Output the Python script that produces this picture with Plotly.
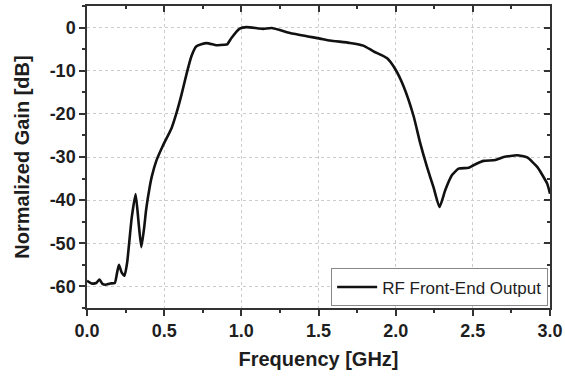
import plotly.graph_objects as go

freq_ghz = [0.0, 0.03, 0.06, 0.081, 0.1, 0.12, 0.15, 0.18, 0.195, 0.207, 0.225, 0.243,
            0.26, 0.29, 0.315, 0.335, 0.352, 0.37, 0.384, 0.406, 0.42, 0.449, 0.49,
            0.547, 0.579, 0.612, 0.644, 0.676, 0.709, 0.774, 0.839, 0.89, 0.908, 0.936,
            0.99, 1.034, 1.109, 1.142, 1.196, 1.315, 1.423, 1.51, 1.575, 1.705, 1.791,
            1.856, 1.943, 1.997, 2.051, 2.116, 2.159, 2.203, 2.245, 2.284, 2.321, 2.365,
            2.408, 2.473, 2.527, 2.57, 2.646, 2.7, 2.787, 2.852, 2.917, 2.982, 3.0]
gain_db = [-58.7, -59.3, -59.2, -58.4, -59.4, -59.6, -59.3, -59.2, -56.8, -55.0, -56.8, -57.5,
           -54.5, -44.0, -38.6, -45.5, -50.9, -46.5, -42.0, -37.0, -34.5, -30.9, -27.5,
           -23.4, -19.9, -15.6, -10.9, -6.7, -4.35, -3.6, -4.1, -4.0, -3.9, -2.4,
           -0.25, 0.1, -0.2, -0.3, -0.1, -1.24, -2.0, -2.56, -3.0, -3.57, -4.19,
           -5.5, -7.06, -9.6, -13.6, -20.5, -26.8, -32.3, -37.0, -41.6, -37.7, -34.2,
           -32.7, -32.5, -31.5, -30.9, -30.7, -30.0, -29.6, -30.1, -32.3, -36.2, -38.5]
x_tickvals = [0.0, 0.5, 1.0, 1.5, 2.0, 2.5, 3.0]
x_ticklabels = ["0.0", "0.5", "1.0", "1.5", "2.0", "2.5", "3.0"]
y_tickvals = [0, -10, -20, -30, -40, -50, -60]
y_ticklabels = ["0", "-10", "-20", "-30", "-40", "-50", "-60"]
series_name = "RF Front-End Output"
x_title = "Frequency [GHz]"
y_title = "Normalized Gain [dB]"

FONT = "Liberation Sans"
AX = "#333333"
GRID = "#cccccc"
TXT = "#1e1e1e"

fig = go.Figure()
fig.add_trace(go.Scatter(
    x=freq_ghz, y=gain_db, mode="lines", name=series_name,
    line=dict(color="#111111", width=2.6, shape="spline", smoothing=0.5),
))
# dummy trace so the mirrored top/right axes are drawn
fig.add_trace(go.Scatter(x=[0], y=[None], xaxis="x2", yaxis="y2",
                         showlegend=False, hoverinfo="skip", mode="lines"))

common = dict(showline=True, linewidth=1.5, linecolor=AX, zeroline=False,
              tickcolor=AX, tickwidth=1.5, automargin=False)
tickfont = dict(size=18, family=FONT, weight=700, color=TXT)
titlefont = dict(size=20, family=FONT, weight=700, color=TXT)
fig.update_layout(
    width=565, height=377,
    margin=dict(l=87, r=15, t=6, b=69, autoexpand=False),
    paper_bgcolor="white", plot_bgcolor="white",
    font=dict(family=FONT, color=TXT),
    xaxis=dict(range=[0, 3], tickmode="array", tickvals=x_tickvals,
               ticktext=["<b>%s</b>" % t for t in x_ticklabels],
               ticks="outside", ticklen=6,
               minor=dict(dtick=0.25, tick0=0, ticks="outside", ticklen=3, tickcolor=AX, tickwidth=1.5),
               showgrid=True, gridcolor=GRID, griddash="dot", gridwidth=1,
               tickfont=tickfont,
               title=dict(text=x_title, font=titlefont, standoff=12),
               **common),
    yaxis=dict(range=[-65, 5], tickmode="array", tickvals=y_tickvals,
               ticktext=["<b>%s</b>" % t for t in y_ticklabels],
               ticks="outside", ticklen=6,
               minor=dict(dtick=5, tick0=0, ticks="outside", ticklen=3, tickcolor=AX, tickwidth=1.5),
               showgrid=True, gridcolor=GRID, griddash="dot", gridwidth=1,
               tickfont=tickfont,
               title=dict(text=y_title, font=titlefont, standoff=15),
               **common),
    xaxis2=dict(overlaying="x", side="top", anchor="y", matches="x", range=[0, 3],
                dtick=0.5, tick0=0, ticks="inside", ticklen=6, showticklabels=False,
                minor=dict(dtick=0.25, ticks="inside", ticklen=3, tickcolor=AX, tickwidth=1.5),
                showgrid=False, **common),
    yaxis2=dict(overlaying="y", side="right", anchor="x", matches="y", range=[-65, 5],
                dtick=10, tick0=0, ticks="inside", ticklen=6, showticklabels=False,
                minor=dict(dtick=5, ticks="inside", ticklen=3, tickcolor=AX, tickwidth=1.5),
                showgrid=False, **common),
    legend=dict(x=0.996, xanchor="right", y=0.005, yanchor="bottom",
                bgcolor="white", bordercolor="#888888", borderwidth=1,
                font=dict(size=17, family=FONT, color=TXT),
                itemwidth=40, tracegroupgap=0),
    showlegend=True,
)
fig.write_html("out.html", config={"displayModeBar": False},
               post_script="document.body.style.margin='0';")
